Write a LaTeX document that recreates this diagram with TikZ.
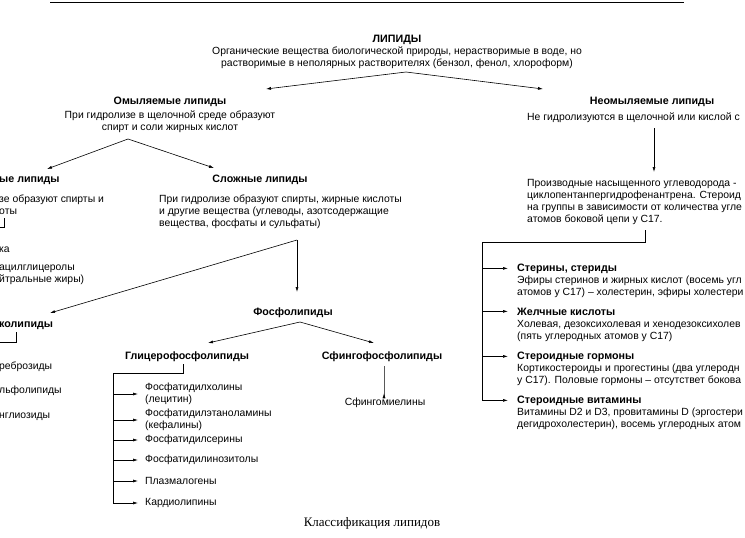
\documentclass[tikz,border=0pt]{standalone}
\usepackage{fontspec}
\setmainfont{Liberation Sans}
\newfontfamily\capfont{Liberation Serif}
\usetikzlibrary{positioning, arrows.meta}

\begin{document}
\begin{tikzpicture}[x=1pt, y=-1pt,
    txt/.style={font=\fontsize{10.4}{12}\selectfont, inner sep=0pt},
    head/.style={txt, font=\fontsize{10.7}{12}\selectfont\bfseries},
    blk/.style={txt, align=left},
    arr/.style={-{Latex[length=5pt, width=3pt]}, line width=0.6pt},
    ln/.style={line width=0.6pt}
]
    \clip (0,0) rectangle (745,538);

    % rule on top
    \draw[line width=1pt] (50,2) -- (684,2);

    % root (multi-line nodes: base = last line)
    \node[head, anchor=base] (lip) at (397,42) {ЛИПИДЫ};
    \node[txt, align=center, anchor=base] (lipdesc) at (397,66) {Органические вещества биологической природы, нерастворимые в воде, но\\растворимые в неполярных растворителях (бензол, фенол, хлороформ)};
    \coordinate (lipfork) at (406,72);
    \coordinate (toomyl) at (266,89);
    \coordinate (toneomyl) at (543,89);
    \draw[arr] (lipfork) -- (toomyl);
    \draw[arr] (lipfork) -- (toneomyl);

    % saponifiable
    \node[head, anchor=base] (omyl) at (170,104) {Омыляемые липиды};
    \node[txt, align=center, anchor=base] (omyldesc) at (170,130) {При гидролизе в щелочной среде образуют\\спирт и соли жирных кислот};
    \coordinate (omylfork) at (128,139);
    \coordinate (toprost) at (47,169);
    \coordinate (toslozh) at (214,168);
    \draw[arr] (omylfork) -- (toprost);
    \draw[arr] (omylfork) -- (toslozh);

    % simple lipids (cut at the left edge)
    \node[head, anchor=base west] (prost) at (-1,182) {ые липиды};
    \node[blk, anchor=base west] (prostdesc) at (-1,214) {зе образуют спирты и\\оты};
    \coordinate (prosttop) at (4,218);
    \coordinate (prostleft) at (-2,227);
    \draw[ln] (prosttop) -- (prosttop |- prostleft) -- (prostleft);
    \node[txt, anchor=base west] (vosk) at (-1,252) {ка};
    \node[blk, anchor=base west] (tag) at (-1,282) {ацилглицеролы\\йтральные жиры)};

    % complex lipids
    \node[head, anchor=base] (slozh) at (260,182) {Сложные липиды};
    \node[blk, anchor=base west] (slozhdesc) at (159,226) {При гидролизе образуют спирты, жирные кислоты\\и другие вещества (углеводы, азотсодержащие\\вещества, фосфаты и сульфаты)};
    \coordinate (slozhfork) at (297,240);
    \coordinate (toglyko) at (50,313);
    \coordinate (tofosfo) at (297,292);
    \draw[arr] (slozhfork) -- (toglyko);
    \draw[arr] (slozhfork) -- (tofosfo);

    % glycolipids (cut at the left edge)
    \node[head, anchor=base west] (glyko) at (-1,327) {колипиды};
    \coordinate (glykotop) at (16,332);
    \coordinate (glykoleft) at (-2,342);
    \draw[ln] (glykotop) -- (glykotop |- glykoleft) -- (glykoleft);
    \node[txt, anchor=base west] (cer) at (-1,369) {реброзиды};
    \node[txt, anchor=base west] (sulf) at (-1,393) {льфолипиды};
    \node[txt, anchor=base west] (gangl) at (-1,418) {нглиозиды};

    % phospholipids
    \node[head, anchor=base] (fosfo) at (293,315) {Фосфолипиды};
    \coordinate (fosfofork) at (300,322);
    \coordinate (toglycero) at (208,343);
    \coordinate (tosfingo) at (374,343);
    \draw[arr] (fosfofork) -- (toglycero);
    \draw[arr] (fosfofork) -- (tosfingo);
    \node[head, anchor=base] (glycero) at (187,359) {Глицерофосфолипиды};
    \node[head, anchor=base] (sfingo) at (382,359) {Сфингофосфолипиды};
    \node[txt, anchor=base] (sfmiel) at (385,405) {Сфингомиелины};
    \coordinate (sfingotop) at (384,366);
    \draw[arr] (sfingotop) -- (sfingotop |- sfmiel.north) -- ++(0,-4);

    % glycerophospholipid list
    \node[blk, anchor=west] (fh) at (145,394) {Фосфатидилхолины\\(лецитин)};
    \node[blk, anchor=west] (fe) at (145,420) {Фосфатидилэтаноламины\\(кефалины)};
    \node[txt, anchor=west] (fs) at (145,440) {Фосфатидилсерины};
    \node[txt, anchor=west] (fi) at (145,460) {Фосфатидилинозитолы};
    \node[txt, anchor=west] (plaz) at (145,481) {Плазмалогены};
    \node[txt, anchor=west] (kard) at (145,503) {Кардиолипины};
    \coordinate (gtop) at (183,364);
    \coordinate (gspine) at (113,373);
    \draw[arr] (gtop) -- (gtop |- gspine) -- (gspine) -- (gspine |- kard.west) -- ([xshift=-7pt]kard.west);
    \draw[arr] (gspine |- fh.west) -- ([xshift=-7pt]fh.west);
    \draw[arr] (gspine |- fe.west) -- ([xshift=-7pt]fe.west);
    \draw[arr] (gspine |- fs.west) -- ([xshift=-7pt]fs.west);
    \draw[arr] (gspine |- fi.west) -- ([xshift=-7pt]fi.west);
    \draw[arr] (gspine |- plaz.west) -- ([xshift=-7pt]plaz.west);

    % unsaponifiable
    \node[head, anchor=base] (neomyl) at (652,104) {Неомыляемые липиды};
    \node[txt, anchor=base west] (neomyldesc) at (527,120) {Не гидролизуются в щелочной или кислой с};
    \coordinate (neotop) at (654,128);
    \coordinate (tosteroid) at (654,172);
    \draw[arr] (neotop) -- (tosteroid);
    \node[blk, anchor=base west] (steroid) at (527,222) {Производные насыщенного углеводорода -\\циклопентанпергидрофенантрена. Стероид\\на группы в зависимости от количества угле\\атомов боковой цепи у С17.};

    % steroid groups
    \node[head, anchor=base west] (sterin) at (517,271) {Стерины, стериды};
    \node[blk, anchor=base west] (sterindesc) at (517,295) {Эфиры стеринов и жирных кислот (восемь угл\\атомов у С17) – холестерин, эфиры холестери};
    \node[head, anchor=base west] (zhelch) at (517,315) {Желчные кислоты};
    \node[blk, anchor=base west] (zhelchdesc) at (517,339) {Холевая, дезоксихолевая и хенодезоксихолев\\(пять углеродных атомов у С17)};
    \node[head, anchor=base west] (gorm) at (517,359) {Стероидные гормоны};
    \node[blk, anchor=base west] (gormdesc) at (517,383) {Кортикостероиды и прогестины (два углеродн\\у С17). Половые гормоны – отсутствет бокова};
    \node[head, anchor=base west] (vitam) at (517,403) {Стероидные витамины};
    \node[blk, anchor=base west] (vitamdesc) at (517,427) {Витамины D2 и D3, провитамины D (эргостери\\дегидрохолестерин), восемь углеродных атом};
    \coordinate (stop) at (645,230);
    \coordinate (sspine) at (482,242);
    \draw[arr] (stop) -- (stop |- sspine) -- (sspine) -- (sspine |- vitam.west) -- ([xshift=-9pt]vitam.west);
    \draw[arr] (sspine |- sterin.west) -- ([xshift=-9pt]sterin.west);
    \draw[arr] (sspine |- zhelch.west) -- ([xshift=-9pt]zhelch.west);
    \draw[arr] (sspine |- gorm.west) -- ([xshift=-9pt]gorm.west);

    % caption
    \node[font=\capfont\fontsize{13}{15}\selectfont, inner sep=0pt, anchor=base] (cap) at (372,526) {Классификация липидов};
\end{tikzpicture}
\end{document}
